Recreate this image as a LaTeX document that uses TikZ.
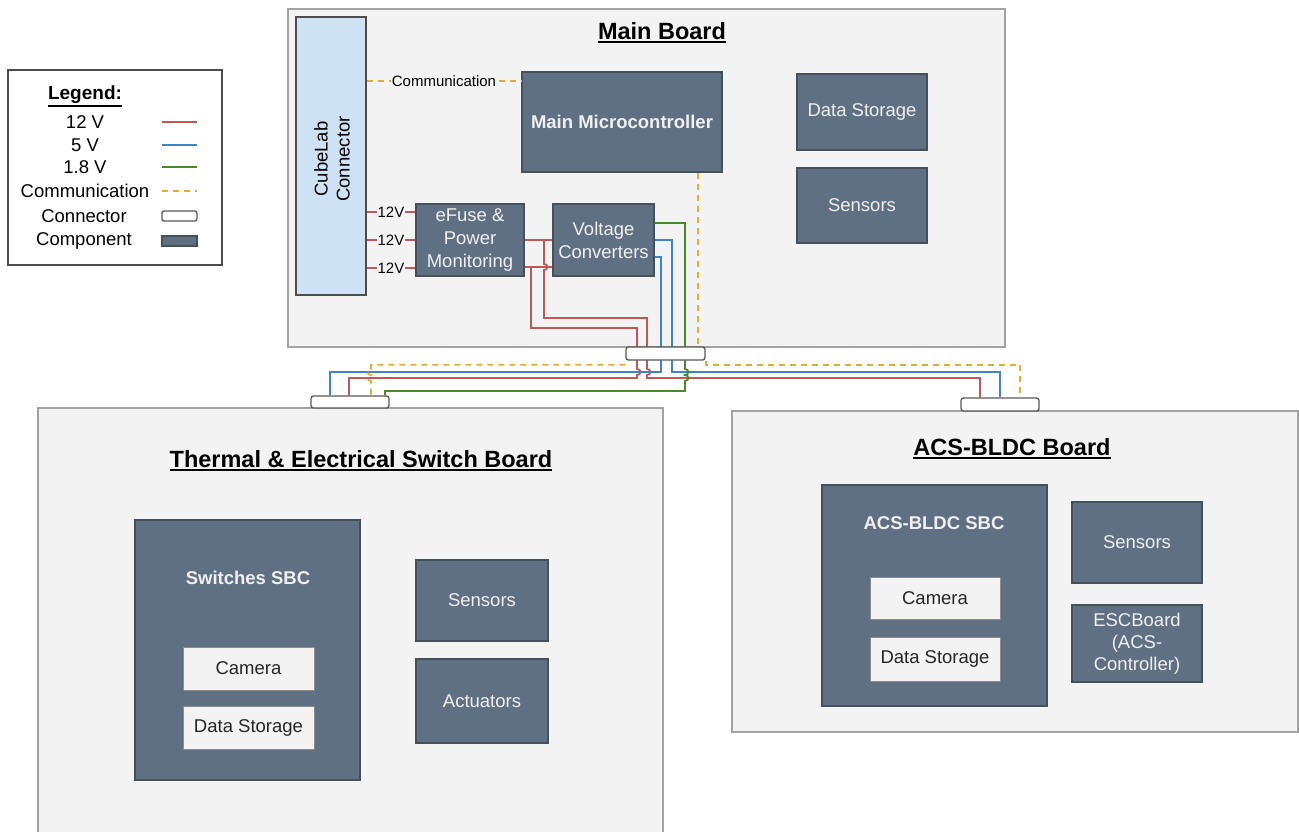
\documentclass[tikz,border=0pt]{standalone}
\usepackage{fontspec}
\setmainfont{Liberation Sans}
\usepackage{xcolor}
\usepackage{tikz}

\definecolor{boardfill}{HTML}{F3F3F3}
\definecolor{boardline}{HTML}{A3A3A3}
\definecolor{compfill}{HTML}{5F7083}
\definecolor{compline}{HTML}{44505C}
\definecolor{cubefill}{HTML}{CFE2F3}
\definecolor{wirered}{HTML}{C0585A}
\definecolor{wireblue}{HTML}{3D85C6}
\definecolor{wiregreen}{HTML}{4A8A2C}
\definecolor{wirecomm}{HTML}{E2AE30}

\pgfdeclarelayer{front}
\pgfsetlayers{main,front}

% bold underlined title
\newcommand{\ulbf}[1]{\vtop{\hbox{\bfseries #1}\kern1.5pt\hrule height 2pt}}
% line jumps over a crossing wire (bulging right / left)
\newcommand{\hopr}[2]{-- (#1,#2-3) .. controls (#1+4.5,#2-3) and (#1+4.5,#2+3) .. (#1,#2+3)}
\newcommand{\hopl}[2]{-- (#1,#2-3) .. controls (#1-4.5,#2-3) and (#1-4.5,#2+3) .. (#1,#2+3)}

\begin{document}
\begin{tikzpicture}[x=1pt, y=-1pt,
  board/.style={draw=boardline, fill=boardfill, line width=1.3pt, inner sep=0},
  comp/.style={draw=compline, fill=compfill, line width=1.2pt, text=white!94!black,
    align=center, inner sep=0, font=\fontsize{18.5}{23}\selectfont},
  box/.style={draw=black!45, fill=boardfill, line width=1pt, inner sep=0,
    text=black!85, font=\fontsize{18.5}{23}\selectfont},
  conn/.style={draw=black!65, fill=white, line width=1.3pt, rounded corners=2.5pt, inner sep=0},
  ttl/.style={anchor=base, inner sep=0, font=\fontsize{23.5}{28}\selectfont},
  lbl/.style={fill=boardfill, inner sep=1pt, font=\fontsize{15}{17}\selectfont},
  legtxt/.style={inner sep=0, font=\fontsize{18.5}{22}\selectfont},
  v12/.style={draw=wirered, line width=1.8pt},
  v5/.style={draw=wireblue, line width=1.8pt},
  v18/.style={draw=wiregreen, line width=1.8pt},
  comm/.style={draw=wirecomm, line width=1.8pt, dash pattern=on 6pt off 5pt}]
  \useasboundingbox (0,0) rectangle (1299,831);

  % Main board
  \node[board, minimum width=717pt, minimum height=338pt] (mainbrd) at (646.5,178) {};
  \node[ttl] (mainttl) at (662,39) {\ulbf{Main Board}};
  \node[draw=black!70, fill=cubefill, line width=1.2pt, minimum width=70pt,
    minimum height=278pt, inner sep=0] (cubelab) at (331,156) {};
  \node[rotate=90, align=center, inner sep=0, font=\fontsize{18.5}{22}\selectfont]
    (cubetxt) at (332,159) {CubeLab\\Connector};
  \node[comp, minimum width=200pt, minimum height=100pt,
    font=\fontsize{18.5}{23}\selectfont\bfseries] (mcu) at (622,122) {Main Microcontroller};
  \node[comp, minimum width=130pt, minimum height=76pt] (mstore) at (862,112) {Data Storage};
  \node[comp, minimum width=130pt, minimum height=75pt] (msens) at (862,205.5) {Sensors};
  \node[comp, minimum width=108pt, minimum height=72pt] (efuse) at (470,240)
    {eFuse \&\\Power\\Monitoring};
  \node[comp, minimum width=101pt, minimum height=72pt] (vconv) at (603.5,240)
    {Voltage\\Converters};

  % Thermal & Electrical Switch board
  \node[board, minimum width=625pt, minimum height=437pt] (thermbrd) at (350.5,626.5) {};
  \node[ttl] (thermttl) at (361,467) {\ulbf{Thermal \& Electrical Switch Board}};
  \node[comp, minimum width=225pt, minimum height=260pt] (tsbc) at (247.5,650) {};
  \node[inner sep=0, text=white!94!black, font=\fontsize{18.5}{23}\selectfont\bfseries]
    (tsbcttl) at (248,578) {Switches SBC};
  \node[box, minimum width=131pt, minimum height=43pt] (tcam) at (248.5,668.5) {Camera};
  \node[box, minimum width=131pt, minimum height=43pt] (tstore) at (248.5,727.5) {Data Storage};
  \node[comp, minimum width=132pt, minimum height=81pt] (tsens) at (482,600.5) {Sensors};
  \node[comp, minimum width=132pt, minimum height=84pt] (tact) at (482,701) {Actuators};

  % ACS-BLDC board
  \node[board, minimum width=566pt, minimum height=321pt] (acsbrd) at (1015,571.5) {};
  \node[ttl] (acsttl) at (1012,455) {\ulbf{ACS-BLDC Board}};
  \node[comp, minimum width=225pt, minimum height=221pt] (asbc) at (934.5,595.5) {};
  \node[inner sep=0, text=white!94!black, font=\fontsize{18.5}{23}\selectfont\bfseries]
    (asbcttl) at (934,523) {ACS-BLDC SBC};
  \node[box, minimum width=130pt, minimum height=42pt] (acam) at (935,598) {Camera};
  \node[box, minimum width=130pt, minimum height=44pt] (astore) at (935,659) {Data Storage};
  \node[comp, minimum width=130pt, minimum height=81pt] (asens) at (1137,542.5) {Sensors};
  \node[comp, minimum width=130pt, minimum height=77pt, font=\fontsize{18.5}{22}\selectfont]
    (aesc) at (1137,643.5) {ESCBoard\\(ACS-\\Controller)};

  % Legend
  \node[draw=black!70, fill=white, line width=1.2pt, minimum width=214pt,
    minimum height=195pt, inner sep=0] (legend) at (115,167.5) {};
  \node[ttl, font=\fontsize{19}{22}\selectfont] (legttl) at (85,99) {\ulbf{Legend:}};
  \foreach \name/\y/\sty in {12 V/122/v12, 5 V/145/v5, 1.8 V/167/v18, Communication/191/comm} {
    \node[legtxt] (leg-\y) at (85,\y) {\name};
    \draw[\sty, line width=1.6pt] (162,\y) -- (197,\y);
  }
  \node[legtxt] (leg-216) at (84,216) {Connector};
  \node[conn, rounded corners=2pt, minimum width=35pt, minimum height=10pt] (legconn) at (179.5,216) {};
  \node[legtxt] (leg-241) at (84,241) {Component};
  \node[comp, minimum width=35pt, minimum height=10pt] (legcomp) at (179.5,241) {};

  % Board connectors (kept above the wires)
  \begin{pgfonlayer}{front}
    \node[conn, minimum width=79pt, minimum height=13pt] (mconn) at (665.5,353.5) {};
    \node[conn, minimum width=78pt, minimum height=12pt] (tconn) at (350,402) {};
    \node[conn, minimum width=78pt, minimum height=13pt] (aconn) at (1000,404.5) {};
  \end{pgfonlayer}

  % Wires on the main board
  \draw[comm, line width=1.5pt] (cubelab.east |- 0,81) -- node[lbl] (commlbl) {Communication} (mcu.west |- 0,81);
  \foreach \y in {212,240,268}
    \draw[v12, line width=1.5pt] (cubelab.east |- 0,\y) -- node[lbl] (vlbl-\y) {12V} (efuse.west |- 0,\y);
  \draw[v12] (efuse.east) -- (vconv.west);
  \draw[v12] (efuse.east |- 0,267) -- (vconv.west |- 0,267);
  \draw[comm] (mcu.south -| 698,0) -- (mconn.north -| 698,0);

  % Wires to the lower boards
  \draw[v12] (544,240) \hopr{544}{267} -- (544,318) -| (647,369) \hopr{647}{372}
    -- (647,378) -| (aconn.north -| 980,0);
  \draw[v12] (531,267) -- (531,328) -| (637,369) \hopr{637}{372}
    -- (637,378) -| (tconn.north -| 349,0);
  \draw[v5] (vconv.east |- 0,257) -| (661,372) -| (tconn.north -| 330,0);
  \draw[v5] (vconv.east |- 0,240) -| (672,372) -| (aconn.north -| 1000,0);
  \draw[v18] (vconv.east |- 0,223) -| (685,369) \hopr{685}{372} \hopr{685}{378}
    -- (685,391) -| (tconn.north -| 385,0);
  \draw[comm] ([yshift=-4pt]mconn.south west) -| (371,369) \hopl{371}{372} \hopl{371}{378}
    -- (tconn.north -| 371,0);
  \draw[comm] (mconn.south east) -- ++(0,4) -| (aconn.north -| 1020,0);
\end{tikzpicture}
\end{document}
